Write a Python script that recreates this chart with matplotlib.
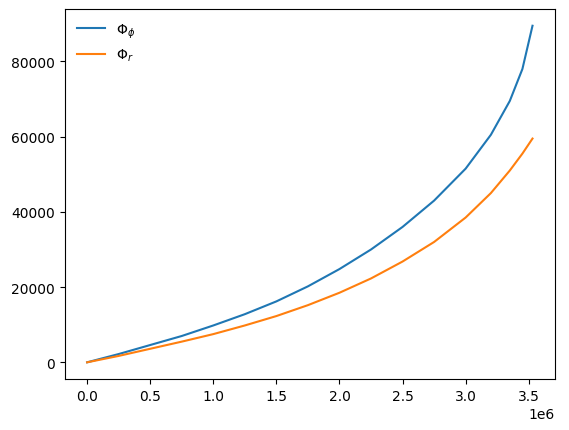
import matplotlib
matplotlib.use("Agg")
import matplotlib.pyplot as plt

x = [0, 0.25e6, 0.5e6, 0.75e6, 1.0e6, 1.25e6, 1.5e6, 1.75e6, 2.0e6, 2.25e6, 2.5e6, 2.75e6, 3.0e6, 3.2e6, 3.35e6, 3.45e6, 3.53e6]
phi_phi = [0, 2200, 4600, 7000, 9800, 12800, 16200, 20200, 24800, 30000, 36000, 43000, 51500, 60500, 69500, 78000, 89500]
phi_r = [0, 1700, 3600, 5500, 7500, 9800, 12300, 15200, 18500, 22300, 26800, 32000, 38500, 45000, 51000, 55500, 59500]

fig = plt.figure(figsize=(5.69, 4.31), dpi=100)
ax = fig.add_axes([0.114, 0.118, 0.861, 0.859])
ax.plot(x, phi_phi, label=r'$\Phi_\phi$')
ax.plot(x, phi_r, label=r'$\Phi_r$')
ax.legend(loc='upper left', frameon=False)
fig.savefig("out.png", dpi=100)
